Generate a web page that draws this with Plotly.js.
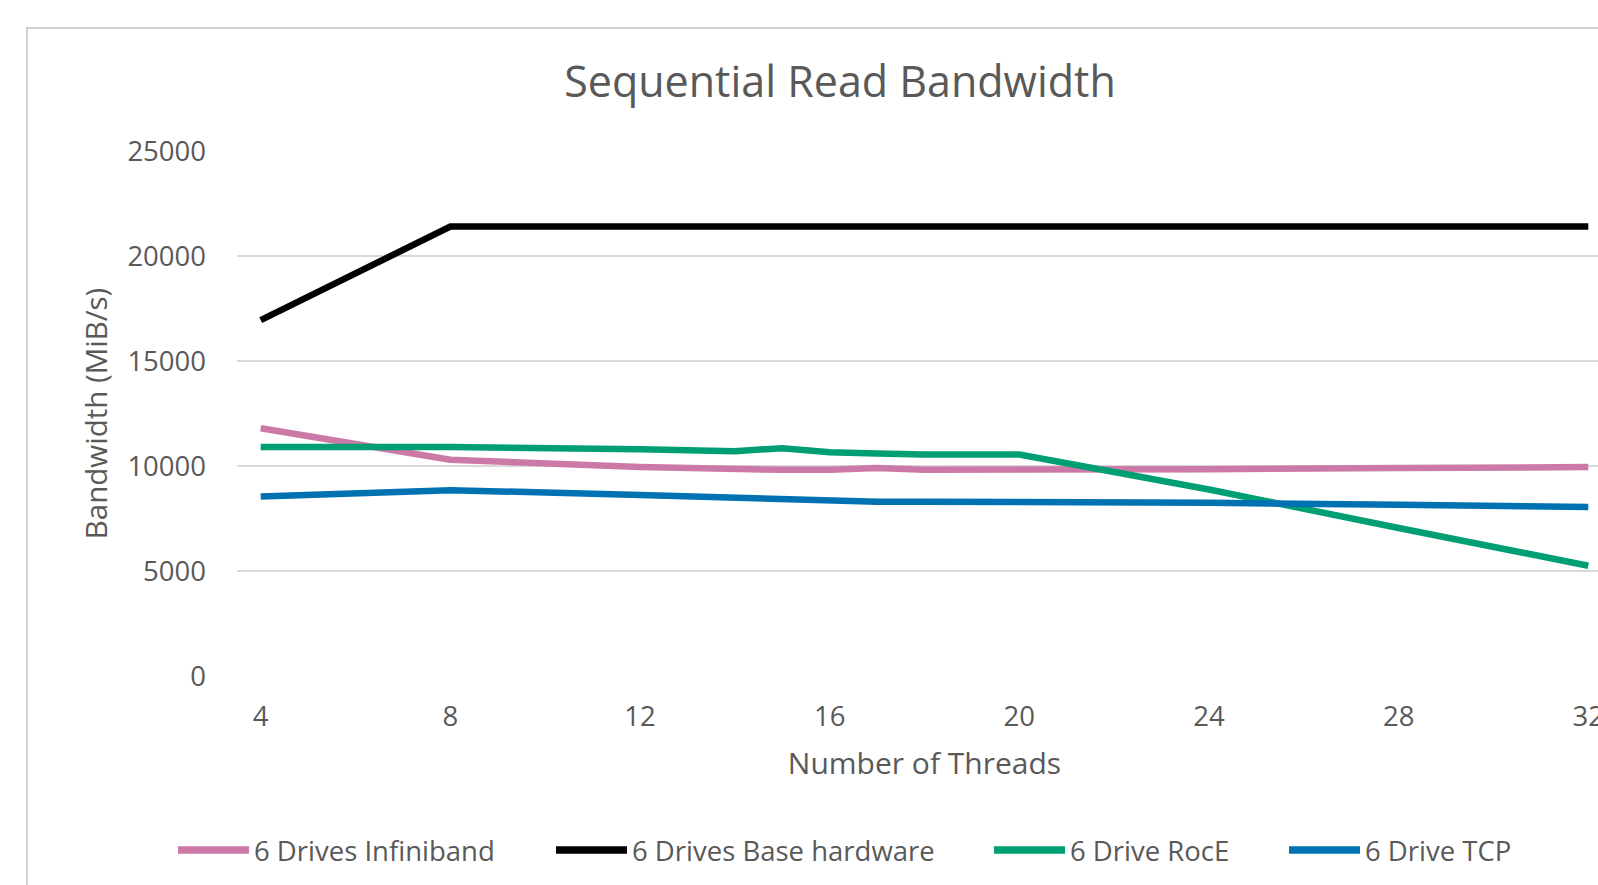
<!DOCTYPE html>
<html>
<head>
<meta charset="utf-8">
<script src="https://cdn.plot.ly/plotly-3.0.1.min.js"></script>
<style>
  html, body { margin: 0; padding: 0; background: #ffffff; overflow: hidden; }
  #chart { width: 1640px; height: 885px; }
</style>
</head>
<body>
<div id="chart"></div>
<script>
// Thread counts tested
const threads = [4, 8, 12, 14, 15, 16, 17, 18, 20, 24, 28, 32];

// Sequential read bandwidth (MiB/s) per configuration
const infiniband = [11800, 10300, 9950, 9820, 9820, 9820, 9900, 9820, 9820, 9850, 9900, 9950];
const baseHardware = [16950, 21400, 21400, 21400, 21400, 21400, 21400, 21400, 21400, 21400, 21400, 21400];
const roce = [10900, 10900, 10800, 10700, 10850, 10650, 10600, 10550, 10550, 8880, 7050, 5250];
const tcp = [8550, 8850, 8620, 8480, 8480, 8400, 8300, 8300, 8300, 8250, 8150, 8050];

const seriesNames = ['6 Drives Infiniband', '6 Drives Base hardware', '6 Drive RocE', '6 Drive TCP'];
const seriesValues = [infiniband, baseHardware, roce, tcp];
const seriesColors = ['#CC79A7', '#000000', '#009E73', '#0072B2'];

const yTicks = [0, 5000, 10000, 15000, 20000, 25000];
const xTicks = [4, 8, 12, 16, 20, 24, 28, 32];

// The chart area is wider than the visible window; its right part runs off the page.
const W = 1640, H = 885;
const M = { l: 237, r: 28, t: 151, b: 209 };
const plotW = W - M.l - M.r, plotH = H - M.t - M.b;

// helpers to place layout decorations in paper space from pixel positions
const px2paperX = p => (p - M.l) / plotW;
const px2paperY = p => (H - M.b - p) / plotH;

const FONT = '"Open Sans", Lato, sans-serif';
const TXT = '#595959';

const traces = seriesNames.map((name, i) => ({
  type: 'scatter',
  mode: 'lines',
  name: name,
  x: threads,
  y: seriesValues[i],
  line: { color: seriesColors[i], width: 6.5 },
  showlegend: false,
  hoverinfo: 'x+y+name'
}));

// Legend drawn as wide line samples with labels, laid out left to right
const legendY = px2paperY(850);
const legendStarts = [175, 553, 991, 1286];
const sampleLen = 77;
const shapes = [
  // chart area frame (left and top edges visible)
  {
    type: 'rect', xref: 'paper', yref: 'paper',
    x0: px2paperX(27), x1: px2paperX(W + 60),
    y0: px2paperY(H + 60), y1: px2paperY(28),
    line: { color: '#d0d0d0', width: 2 }, fillcolor: 'rgba(0,0,0,0)', layer: 'below'
  }
];
const annotations = [];
seriesNames.forEach((name, i) => {
  const s = legendStarts[i];
  shapes.push({
    type: 'line', xref: 'paper', yref: 'paper',
    x0: px2paperX(s + 3), x1: px2paperX(s + sampleLen - 3),
    y0: legendY, y1: legendY,
    line: { color: seriesColors[i], width: 7.5 }
  });
  annotations.push({
    xref: 'paper', yref: 'paper',
    x: px2paperX(s + sampleLen), y: legendY,
    xanchor: 'left', yanchor: 'middle',
    text: name, showarrow: false,
    font: { family: FONT, size: 27.5, color: TXT }
  });
});

const layout = {
  width: W, height: H,
  margin: M,
  paper_bgcolor: 'rgba(0,0,0,0)',
  plot_bgcolor: 'rgba(0,0,0,0)',
  font: { family: FONT, color: TXT },
  title: {
    text: 'Sequential Read Bandwidth',
    font: { family: FONT, size: 43, color: TXT },
    xref: 'paper', x: px2paperX(840), xanchor: 'center',
    yref: 'container', y: 1 - 82 / H, yanchor: 'middle'
  },
  xaxis: {
    range: [3.5, 32.5],
    tickmode: 'array', tickvals: xTicks, ticktext: xTicks.map(String),
    showgrid: false, zeroline: false, showline: false,
    ticks: 'outside', ticklen: 16, tickcolor: 'rgba(0,0,0,0)',
    tickfont: { family: FONT, size: 27.5, color: TXT },
    title: { text: 'Number of Threads', font: { family: FONT, size: 30, color: TXT }, standoff: 19 },
    automargin: false, fixedrange: true
  },
  yaxis: {
    range: [0, 25000],
    tickmode: 'array', tickvals: yTicks, ticktext: yTicks.map(String),
    showgrid: true, gridcolor: '#d9d9d9', gridwidth: 1.8,
    zeroline: false, showline: false,
    ticks: '', ticklabelstandoff: 30,
    tickfont: { family: FONT, size: 27.5, color: TXT },
    title: { text: 'Bandwidth (MiB/s)', font: { family: FONT, size: 29.5, color: TXT }, standoff: 11 },
    automargin: false, fixedrange: true
  },
  shapes: shapes,
  annotations: annotations
};

Plotly.newPlot('chart', traces, layout, { displayModeBar: false, staticPlot: true });
</script>
</body>
</html>
